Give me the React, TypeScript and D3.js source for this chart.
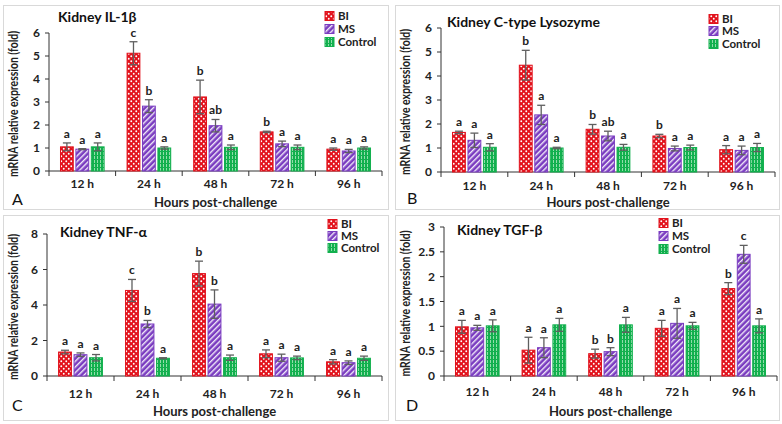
import React from "react";
import * as d3 from "d3";

const categories = ["12 h", "24 h", "48 h", "72 h", "96 h"];
const seriesNames = ["BI", "MS", "Control"];

// Panel A: Kidney IL-1β
const aBI = [1.05, 5.12, 3.22, 1.7, 0.95];
const aMS = [0.95, 2.82, 1.97, 1.18, 0.87];
const aCtrl = [1.05, 1.0, 1.03, 1.03, 1.0];
const aBIerr = [0.17, 0.5, 0.73, 0.03, 0.05];
const aMSerr = [0.02, 0.28, 0.27, 0.12, 0.07];
const aCtrlErr = [0.17, 0.05, 0.1, 0.1, 0.05];
const aLetters = [["a", "a", "a"], ["c", "b", "a"], ["b", "ab", "a"], ["b", "a", "a"], ["a", "a", "a"]];

// Panel B: Kidney C-type Lysozyme
const bBI = [1.65, 4.45, 1.78, 1.5, 0.93];
const bMS = [1.32, 2.38, 1.5, 0.98, 0.9];
const bCtrl = [1.03, 1.0, 1.03, 1.02, 1.02];
const bBIerr = [0.05, 0.62, 0.2, 0.07, 0.17];
const bMSerr = [0.3, 0.4, 0.2, 0.1, 0.18];
const bCtrlErr = [0.15, 0.03, 0.12, 0.1, 0.17];
const bLetters = [["a", "a", "a"], ["b", "a", "a"], ["b", "ab", "a"], ["b", "a", "a"], ["a", "a", "a"]];

// Panel C: Kidney TNF-α
const cBI = [1.35, 4.82, 5.77, 1.25, 0.8];
const cMS = [1.2, 2.93, 4.05, 1.03, 0.75];
const cCtrl = [1.03, 1.0, 1.03, 1.02, 1.0];
const cBIerr = [0.1, 0.62, 0.7, 0.22, 0.12];
const cMSerr = [0.1, 0.2, 0.8, 0.2, 0.1];
const cCtrlErr = [0.18, 0.03, 0.15, 0.1, 0.12];
const cLetters = [["a", "a", "a"], ["c", "b", "a"], ["b", "b", "a"], ["a", "a", "a"], ["a", "a", "a"]];

// Panel D: Kidney TGF-β
const dBI = [0.99, 0.52, 0.45, 0.96, 1.76];
const dMS = [0.97, 0.57, 0.49, 1.06, 2.45];
const dCtrl = [1.01, 1.03, 1.03, 1.01, 1.01];
const dBIerr = [0.13, 0.26, 0.09, 0.16, 0.12];
const dMSerr = [0.05, 0.2, 0.08, 0.3, 0.18];
const dCtrlErr = [0.12, 0.13, 0.15, 0.07, 0.14];
const dLetters = [["a", "a", "a"], ["a", "a", "a"], ["b", "b", "a"], ["a", "a", "a"], ["b", "c", "a"]];

const aTicks = [0, 1, 2, 3, 4, 5, 6];
const bTicks = [0, 1, 2, 3, 4, 5, 6];
const cTicks = [0, 2, 4, 6, 8];
const dTicks = [0, 0.5, 1, 1.5, 2, 2.5, 3];

const FONT = "Lato, 'Open Sans', sans-serif";
const RED = "#e2121c";
const PURPLE = "#7a3cc0";
const GREEN = "#12b04e";
const ERR = "#5f5f5f";

type PanelProps = {
  frame: [number, number, number, number];
  x0: number; x1: number; yTop: number; y0: number;
  ticks: number[];
  title: string; titleX: number; titleY: number;
  legendX: number; legendY: number[];
  letter: string; letterX: number; letterY: number;
  tickLabelY: number; xTitleY: number;
  series: number[][]; errs: number[][]; letters: string[][];
  id: string;
};

function Panel(p: PanelProps) {
  const yMax = p.ticks[p.ticks.length - 1];
  const y = d3.scaleLinear().domain([0, yMax]).range([p.y0, p.yTop]);
  const x = d3.scaleBand<string>().domain(categories).range([p.x0, p.x1]).paddingInner(0.345).paddingOuter(0.1725);
  const xs = d3.scaleBand<string>().domain(seriesNames).range([0, x.bandwidth()]).paddingInner(0.17);
  const bw = (p.x1 - p.x0) / categories.length;
  const fills = [`url(#pBI${p.id})`, `url(#pMS${p.id})`, `url(#pC${p.id})`];
  const strokes = [RED, PURPLE, GREEN];
  return (
    <g>
      <rect x={p.frame[0]} y={p.frame[1]} width={p.frame[2]} height={p.frame[3]} fill="white" stroke="#d9d9d9" strokeWidth={1} />
      <defs>
        <pattern id={`pBI${p.id}`} width={5} height={5} patternUnits="userSpaceOnUse">
          <rect width={5} height={5} fill={RED} />
          <circle cx={1.25} cy={1.25} r={0.95} fill="white" />
          <circle cx={3.75} cy={3.75} r={0.95} fill="white" />
        </pattern>
        <pattern id={`pMS${p.id}`} width={4} height={4} patternUnits="userSpaceOnUse" patternTransform="rotate(45)">
          <rect width={4} height={4} fill={PURPLE} />
          <rect width={1.4} height={4} fill="white" opacity={0.9} />
        </pattern>
        <pattern id={`pC${p.id}`} width={3} height={4} patternUnits="userSpaceOnUse">
          <rect width={3} height={4} fill={GREEN} />
          <rect x={1} width={0.9} height={3} fill="#9fe3b5" />
        </pattern>
      </defs>
      <line x1={p.x0} x2={p.x0} y1={p.yTop} y2={p.y0} stroke="#333" strokeWidth={1} />
      {p.ticks.map((t) => (
        <g key={t}>
          <line x1={p.x0 - 4} x2={p.x0} y1={y(t)} y2={y(t)} stroke="#333" />
          <text x={p.x0 - 9} y={y(t)} dy="0.35em" textAnchor="end" fontSize={12} fontWeight="bold" fill="#222" fontFamily={FONT}>{String(t)}</text>
        </g>
      ))}
      <line x1={p.x0} x2={p.x1} y1={p.y0} y2={p.y0} stroke="#333" strokeWidth={1} />
      {d3.range(categories.length + 1).map((i) => (
        <line key={i} x1={p.x0 + i * bw} x2={p.x0 + i * bw} y1={p.y0} y2={p.y0 + 5} stroke="#333" />
      ))}
      {categories.map((c) => (
        <text key={c} x={(x(c) as number) + x.bandwidth() / 2} y={p.tickLabelY} dy="0.35em" textAnchor="middle" fontSize={12} fontWeight="bold" fill="#222" fontFamily={FONT}>{c}</text>
      ))}
      {categories.map((c, ci) =>
        seriesNames.map((s, si) => {
          const v = p.series[si][ci];
          const e = p.errs[si][ci];
          const bx = (x(c) as number) + (xs(s) as number);
          const cx = bx + xs.bandwidth() / 2;
          return (
            <g key={c + s}>
              <rect x={bx} y={y(v)} width={xs.bandwidth()} height={p.y0 - y(v)} fill={fills[si]} stroke={strokes[si]} strokeWidth={1} />
              <line x1={cx} x2={cx} y1={y(v + e)} y2={y(Math.max(0, v - e))} stroke={ERR} strokeWidth={1.3} />
              <line x1={cx - 4} x2={cx + 4} y1={y(v + e)} y2={y(v + e)} stroke={ERR} strokeWidth={1.3} />
              <line x1={cx - 4} x2={cx + 4} y1={y(Math.max(0, v - e))} y2={y(Math.max(0, v - e))} stroke={ERR} strokeWidth={1.3} />
              <text x={cx} y={y(v + e) - 5} textAnchor="middle" fontSize={12} fontWeight="bold" fill="#222" fontFamily={FONT}>{p.letters[ci][si]}</text>
            </g>
          );
        })
      )}
      <text x={p.titleX} y={p.titleY} fontSize={14} fontWeight="bold" fill="#111" fontFamily={FONT}>{p.title}</text>
      <text transform={`translate(${p.frame[0] + 10},${(p.yTop + p.y0) / 2 + 2}) rotate(-90)`} textAnchor="middle" dy="0.35em" fontSize={12.5} fontWeight="bold" fill="#222" fontFamily={FONT} textLength={146} lengthAdjust="spacingAndGlyphs">mRNA relative expression (fold)</text>
      <text x={(p.x0 + p.x1) / 2} y={p.xTitleY} dy="0.35em" textAnchor="middle" fontSize={13} fontWeight="bold" fill="#222" fontFamily={FONT}>Hours post-challenge</text>
      <text x={p.letterX} y={p.letterY} dy="0.35em" fontSize={16} fill="#111" fontFamily={FONT}>{p.letter}</text>
      {seriesNames.map((s, si) => (
        <g key={s}>
          <rect x={p.legendX} y={p.legendY[si] - 4.5} width={9} height={9} fill={fills[si]} stroke={strokes[si]} />
          <text x={p.legendX + 13} y={p.legendY[si]} dy="0.35em" fontSize={11.5} fontWeight="bold" fill="#222" fontFamily={FONT}>{s}</text>
        </g>
      ))}
    </g>
  );
}

export default function App() {
  return (
    <svg width={782} height={424} style={{ position: "absolute", left: 0, top: 0, background: "white" }}>
      <rect width={782} height={424} fill="white" />
      <Panel id="A" frame={[3.5, 5.5, 385, 204]} x0={49} x1={382} yTop={33} y0={171} ticks={aTicks}
        title="Kidney IL-1β" titleX={58} titleY={22} legendX={325} legendY={[16, 29, 42]}
        letter="A" letterX={12} letterY={199} tickLabelY={184} xTitleY={202}
        series={[aBI, aMS, aCtrl]} errs={[aBIerr, aMSerr, aCtrlErr]} letters={aLetters} />
      <Panel id="B" frame={[395.5, 5.5, 384, 204]} x0={441} x1={775} yTop={28} y0={172} ticks={bTicks}
        title="Kidney C-type Lysozyme" titleX={447} titleY={27} legendX={709} legendY={[19, 31, 44]}
        letter="B" letterX={407} letterY={198} tickLabelY={186} xTitleY={202}
        series={[bBI, bMS, bCtrl]} errs={[bBIerr, bMSerr, bCtrlErr]} letters={bLetters} />
      <Panel id="C" frame={[3.5, 215.5, 385, 205]} x0={47} x1={382} yTop={234} y0={376} ticks={cTicks}
        title="Kidney TNF-α" titleX={60} titleY={237} legendX={328} legendY={[224, 236, 248]}
        letter="C" letterX={12} letterY={405} tickLabelY={394} xTitleY={411}
        series={[cBI, cMS, cCtrl]} errs={[cBIerr, cMSerr, cCtrlErr]} letters={cLetters} />
      <Panel id="D" frame={[395.5, 215.5, 384, 205]} x0={444} x1={777} yTop={227} y0={376} ticks={dTicks}
        title="Kidney TGF-β" titleX={457} titleY={235} legendX={659} legendY={[223, 236, 249]}
        letter="D" letterX={406} letterY={405} tickLabelY={392} xTitleY={411}
        series={[dBI, dMS, dCtrl]} errs={[dBIerr, dMSerr, dCtrlErr]} letters={dLetters} />
    </svg>
  );
}
